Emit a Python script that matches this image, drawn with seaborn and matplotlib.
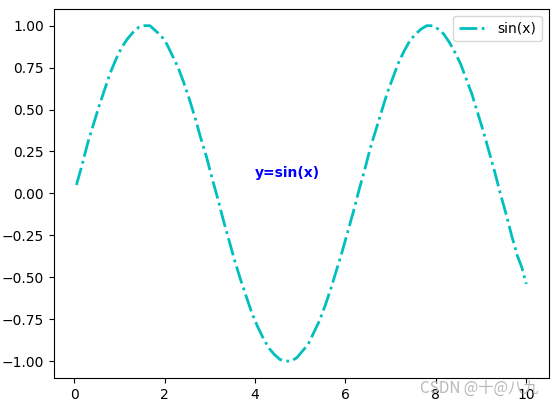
import pandas as pd
import matplotlib
matplotlib.use('Agg')
import matplotlib.pyplot as plt
import seaborn as sns

# values
x_vals = [0.05, 0.175, 0.30, 0.425, 0.55, 0.675, 0.80, 0.925, 1.05, 1.175,
          1.30, 1.425, 1.55, 1.675, 1.80, 1.925, 2.05, 2.175, 2.30, 2.425,
          2.55, 2.675, 2.80, 2.925, 3.05, 3.175, 3.30, 3.425, 3.55, 3.675,
          3.80, 3.925, 4.05, 4.175, 4.30, 4.425, 4.55, 4.675, 4.80, 4.925,
          5.05, 5.175, 5.30, 5.425, 5.55, 5.675, 5.80, 5.925, 6.05, 6.175,
          6.30, 6.425, 6.55, 6.675, 6.80, 6.925, 7.05, 7.175, 7.30, 7.425,
          7.55, 7.675, 7.80, 7.925, 8.05, 8.175, 8.30, 8.425, 8.55, 8.675,
          8.80, 8.925, 9.05, 9.175, 9.30, 9.425, 9.55, 9.675, 9.80, 9.90,
          10.0]
y_vals = [0.05, 0.17, 0.30, 0.41, 0.52, 0.62, 0.72, 0.80, 0.87, 0.92,
          0.96, 0.99, 1.00, 1.00, 0.97, 0.94, 0.89, 0.82, 0.75, 0.66,
          0.56, 0.45, 0.33, 0.22, 0.09, -0.03, -0.16, -0.28, -0.40, -0.51,
          -0.61, -0.71, -0.79, -0.86, -0.92, -0.96, -0.99, -1.00, -1.00, -0.98,
          -0.94, -0.90, -0.83, -0.76, -0.67, -0.57, -0.46, -0.35, -0.23, -0.11,
          0.02, 0.14, 0.27, 0.38, 0.49, 0.60, 0.69, 0.78, 0.85, 0.91,
          0.95, 0.98, 1.00, 1.00, 0.98, 0.95, 0.90, 0.84, 0.77, 0.68,
          0.59, 0.48, 0.37, 0.25, 0.13, 0.00, -0.12, -0.25, -0.37, -0.44,
          -0.54]
series_label = 'sin(x)'
note_text = 'y=sin(x)'
watermark = 'CSDN @十@八九'

df = pd.DataFrame({'x': x_vals, 'y': y_vals})

fig = plt.figure(figsize=(5.56, 4.05), dpi=100)
ax = fig.add_axes([0.097, 0.067, 0.890, 0.911])

sns.lineplot(data=df, x='x', y='y', ax=ax, color='c', linestyle='-.',
             linewidth=2, label=series_label)

ax.text(4, 0.1, note_text, color='blue', fontweight='bold', fontsize=10)
ax.set_xlabel('')
ax.set_ylabel('')
ax.set_yticks([-1.0, -0.75, -0.5, -0.25, 0.0, 0.25, 0.5, 0.75, 1.0])
ax.legend(loc='upper right')

# faint watermark in the lower right corner
fig.text(0.755, 0.03, watermark, color='#b8b8b8', fontsize=11,
         family=['Noto Sans CJK SC', 'DejaVu Sans'])

fig.savefig('out.png', dpi=100)
